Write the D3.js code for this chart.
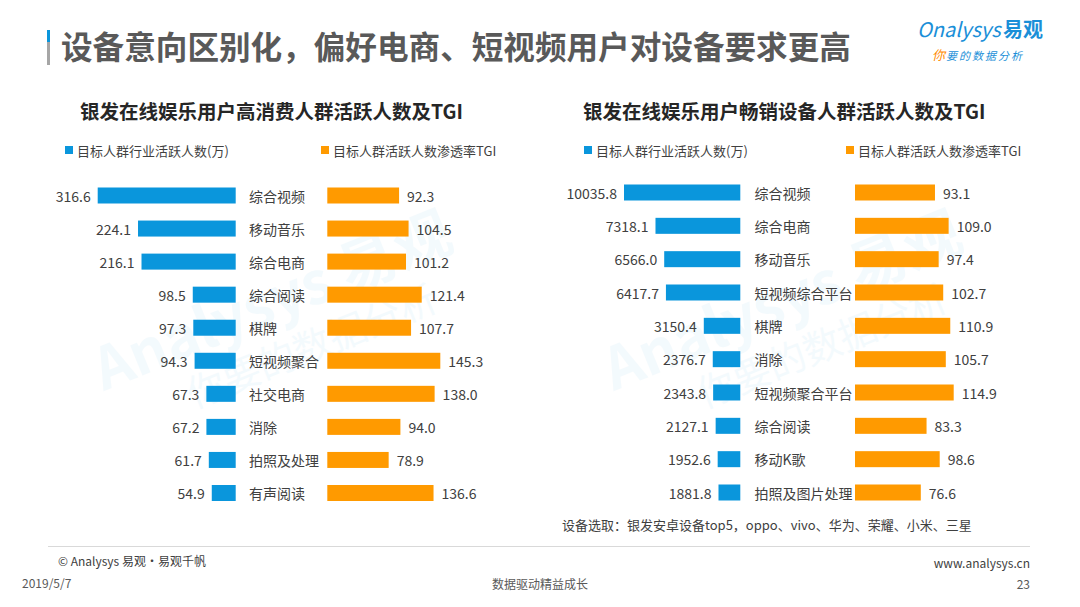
<!DOCTYPE html>
<html>
<head>
<meta charset="utf-8">
<script src="https://cdn.jsdelivr.net/npm/d3@7"></script>
<style>
  body { margin: 0; background: #fff; }
  svg { font-family: "Noto Sans CJK SC", "Noto Sans", sans-serif; }
</style>
</head>
<body>
<div id="chart"></div>
<script>
// left panel: high consumption groups
var leftCats = ["综合视频", "移动音乐", "综合电商", "综合阅读", "棋牌", "短视频聚合", "社交电商", "消除", "拍照及处理", "有声阅读"];
var leftUsers = [316.6, 224.1, 216.1, 98.5, 97.3, 94.3, 67.3, 67.2, 61.7, 54.9];
var leftTgi = [92.3, 104.5, 101.2, 121.4, 107.7, 145.3, 138.0, 94.0, 78.9, 136.6];

// right panel: best-selling devices
var rightCats = ["综合视频", "综合电商", "移动音乐", "短视频综合平台", "棋牌", "消除", "短视频聚合平台", "综合阅读", "移动K歌", "拍照及图片处理"];
var rightUsers = [10035.8, 7318.1, 6566.0, 6417.7, 3150.4, 2376.7, 2343.8, 2127.1, 1952.6, 1881.8];
var rightTgi = [93.1, 109.0, 97.4, 102.7, 110.9, 105.7, 114.9, 83.3, 98.6, 76.6];

var blue = "#0a96dc";
var orange = "#ff9a00";
var textColor = "#404040";

var svg = d3.select("#chart")
  .append("svg")
  .attr("width", 1080)
  .attr("height", 607);

// watermarks
function watermark(cx, cy) {
  var g = svg.append("g")
    .attr("transform", "translate(" + cx + "," + cy + ") rotate(-22)")
    .style("opacity", 0.045);
  g.append("text")
    .attr("text-anchor", "middle")
    .style("font-size", "58px")
    .style("font-weight", "bold")
    .style("fill", blue)
    .text("Analysys 易观");
  g.append("text")
    .attr("y", 50)
    .attr("x", 20)
    .attr("text-anchor", "middle")
    .style("font-size", "38px")
    .style("fill", blue)
    .text("你要的数据分析");
}
watermark(280, 320);
watermark(790, 320);

// header
svg.append("rect").attr("x", 47).attr("y", 30).attr("width", 3).attr("height", 12).style("fill", blue);
svg.append("rect").attr("x", 47).attr("y", 42).attr("width", 3).attr("height", 23).style("fill", "#a6a6a6");
svg.append("text")
  .attr("x", 61)
  .attr("y", 59)
  .style("font-size", "31.6px")
  .style("font-weight", "bold")
  .style("fill", "#595959")
  .text("设备意向区别化，偏好电商、短视频用户对设备要求更高");

// logo
svg.append("text")
  .attr("x", 917)
  .attr("y", 37)
  .style("font-size", "20px")
  .style("fill", "#1a8fd8")
  .style("font-style", "italic")
  .text("Onalysys");
svg.append("text")
  .attr("x", 1003)
  .attr("y", 37)
  .style("font-size", "20px")
  .style("font-weight", "bold")
  .style("fill", "#1a8fd8")
  .text("易观");
svg.append("text")
  .attr("x", 932)
  .attr("y", 60)
  .style("font-size", "13px")
  .style("font-style", "italic")
  .style("fill", "#ff8a00")
  .text("你");
svg.append("text")
  .attr("x", 946)
  .attr("y", 60)
  .style("font-size", "11px")
  .style("font-style", "italic")
  .style("letter-spacing", "2px")
  .style("fill", "#1a8fd8")
  .text("要的数据分析");

function panel(opt) {
  svg.append("text")
    .attr("x", opt.titleX)
    .attr("y", 119)
    .style("font-size", "19.5px")
    .style("font-weight", "bold")
    .style("fill", "#262626")
    .text(opt.title);

  // legend
  svg.append("rect").attr("x", opt.legend1X).attr("y", 146).attr("width", 8).attr("height", 8).style("fill", blue);
  svg.append("text").attr("x", opt.legend1X + 12).attr("y", 150)
    .attr("dominant-baseline", "central")
    .style("font-size", "13px").style("fill", textColor)
    .text("目标人群行业活跃人数(万)");
  svg.append("rect").attr("x", opt.legend2X).attr("y", 146).attr("width", 8).attr("height", 8).style("fill", orange);
  svg.append("text").attr("x", opt.legend2X + 12).attr("y", 150)
    .attr("dominant-baseline", "central")
    .style("font-size", "13px").style("fill", textColor)
    .text("目标人群活跃人数渗透率TGI");

  var y = d3.scalePoint().domain(d3.range(opt.cats.length)).range(opt.yRange);
  var xUsers = d3.scaleLinear().domain([0, d3.max(opt.users)]).range([0, opt.usersWidth]);
  var xTgi = d3.scaleLinear().domain([0, d3.max(opt.tgi)]).range([0, opt.tgiWidth]);
  var barH = 16;

  var rows = svg.append("g").selectAll("g")
    .data(opt.cats.map(function(c, i) { return {cat: c, users: opt.users[i], tgi: opt.tgi[i], i: i}; }))
    .join("g");

  rows.append("rect")
    .attr("x", function(d) { return opt.usersEnd - xUsers(d.users); })
    .attr("y", function(d) { return y(d.i) - barH / 2; })
    .attr("width", function(d) { return xUsers(d.users); })
    .attr("height", barH)
    .style("fill", blue);

  rows.append("text")
    .attr("x", function(d) { return opt.usersEnd - xUsers(d.users) - 7; })
    .attr("y", function(d) { return y(d.i); })
    .attr("text-anchor", "end")
    .attr("dominant-baseline", "central")
    .style("font-size", "14px")
    .style("fill", textColor)
    .text(function(d) { return d3.format(".1f")(d.users); });

  rows.append("text")
    .attr("x", opt.catX)
    .attr("y", function(d) { return y(d.i); })
    .attr("dominant-baseline", "central")
    .style("font-size", "14px")
    .style("fill", textColor)
    .text(function(d) { return d.cat; });

  rows.append("rect")
    .attr("x", opt.tgiStart)
    .attr("y", function(d) { return y(d.i) - barH / 2; })
    .attr("width", function(d) { return xTgi(d.tgi); })
    .attr("height", barH)
    .style("fill", orange);

  rows.append("text")
    .attr("x", function(d) { return opt.tgiStart + xTgi(d.tgi) + 8; })
    .attr("y", function(d) { return y(d.i); })
    .attr("dominant-baseline", "central")
    .style("font-size", "14px")
    .style("fill", textColor)
    .text(function(d) { return d3.format(".1f")(d.tgi); });
}

panel({
  title: "银发在线娱乐用户高消费人群活跃人数及TGI",
  titleX: 80,
  legend1X: 65, legend2X: 321,
  cats: leftCats, users: leftUsers, tgi: leftTgi,
  yRange: [195.5, 493],
  usersEnd: 235.7, usersWidth: 138,
  catX: 249,
  tgiStart: 327.3, tgiWidth: 113
});

panel({
  title: "银发在线娱乐用户畅销设备人群活跃人数及TGI",
  titleX: 583,
  legend1X: 584, legend2X: 846,
  cats: rightCats, users: rightUsers, tgi: rightTgi,
  yRange: [192.5, 492.5],
  usersEnd: 740.3, usersWidth: 116.3,
  catX: 754.5,
  tgiStart: 855, tgiWidth: 98.7
});

svg.append("text")
  .attr("x", 562)
  .attr("y", 524)
  .attr("dominant-baseline", "central")
  .style("font-size", "13px")
  .style("fill", textColor)
  .text("设备选取：银发安卓设备top5，oppo、vivo、华为、荣耀、小米、三星");

// footer
svg.append("line")
  .attr("x1", 48).attr("x2", 1030)
  .attr("y1", 546.5).attr("y2", 546.5)
  .style("stroke", "#d9d9d9");
svg.append("text").attr("x", 58).attr("y", 566)
  .style("font-size", "12px").style("fill", "#404040")
  .text("© Analysys 易观·易观千帆");
svg.append("text").attr("x", 1030).attr("y", 568).attr("text-anchor", "end")
  .style("font-size", "12px").style("fill", "#404040")
  .text("www.analysys.cn");
svg.append("text").attr("x", 22).attr("y", 588)
  .style("font-size", "12px").style("fill", "#595959")
  .text("2019/5/7");
svg.append("text").attr("x", 540).attr("y", 589).attr("text-anchor", "middle")
  .style("font-size", "12px").style("fill", "#595959")
  .text("数据驱动精益成长");
svg.append("text").attr("x", 1030).attr("y", 589).attr("text-anchor", "end")
  .style("font-size", "12px").style("fill", "#595959")
  .text("23");
</script>
</body>
</html>
